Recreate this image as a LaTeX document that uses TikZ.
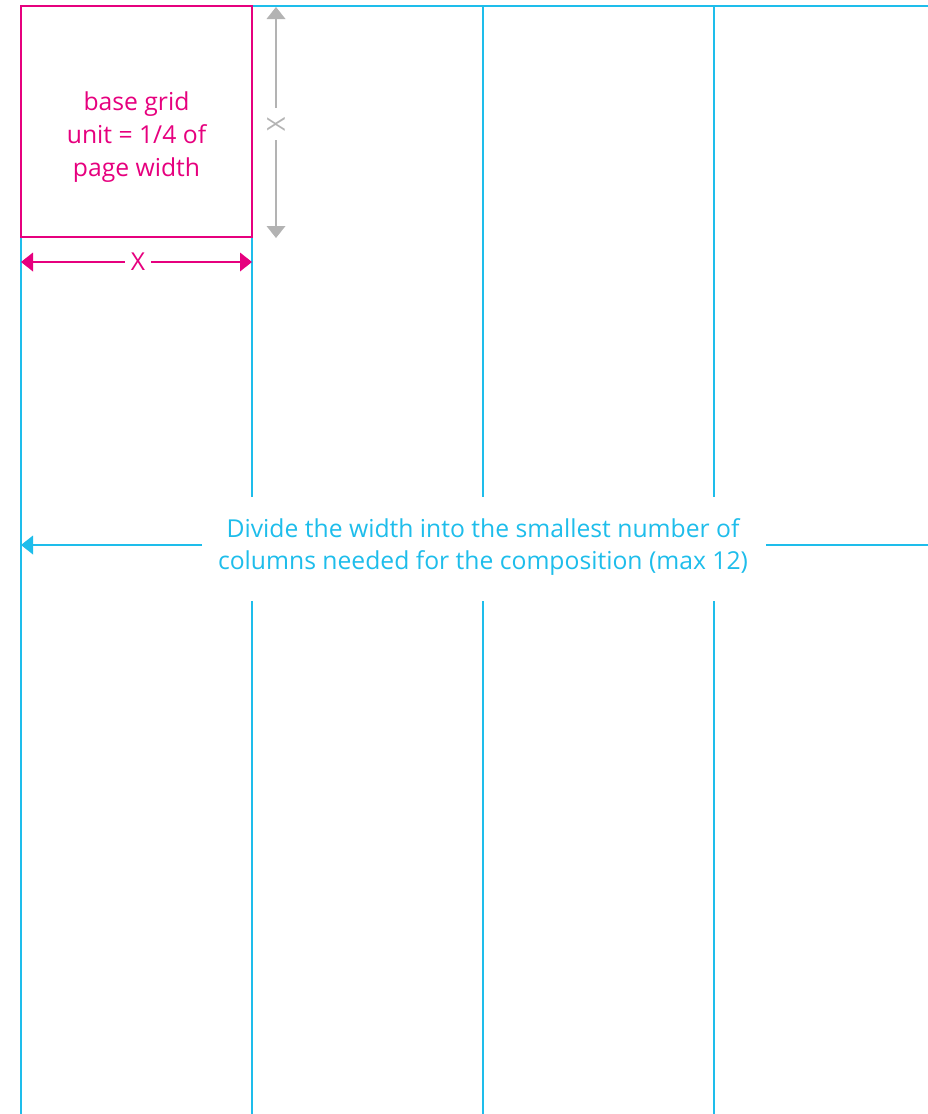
\documentclass[tikz,border=0pt]{standalone}
\usepackage{fontspec}
\setmainfont{Open Sans}
\usetikzlibrary{arrows.meta}
\definecolor{gridblue}{HTML}{1EBDEB}
\definecolor{gridpink}{HTML}{E6007E}
\definecolor{gridgray}{HTML}{B3B3B3}
\begin{document}
\begin{tikzpicture}[x=1pt,y=-1pt,
  bline/.style={draw=gridblue,line width=1.2pt},
  pline/.style={draw=gridpink,line width=1.2pt},
  gline/.style={draw=gridgray,line width=1.5pt},
  tri/.style={-{Triangle[length=12pt,width=19pt,line width=0pt]}},
  lbl/.style={inner sep=0pt,font=\fontsize{24.7}{32.8}\selectfont,align=center}]
\useasboundingbox (0,0) rectangle (928,1114);
% top line
\coordinate (tl) at (21,6);
\coordinate (tr) at (928,6);
\draw[bline] (tl) -- (tr);
% left line
\coordinate (lb) at (21,1114);
\draw[bline] (tl) -- (lb);
% interrupted columns
\foreach \x/\n in {252/a,483/b,714/c}{
  \coordinate (\n1) at (\x,6);
  \coordinate (\n2) at (\x,497);
  \coordinate (\n3) at (\x,601);
  \coordinate (\n4) at (\x,1114);
  \draw[bline] (\n1) -- (\n2);
  \draw[bline] (\n3) -- (\n4);
}
% pink box
\node[draw=gridpink,line width=1.2pt,minimum width=231pt,minimum height=231pt,inner sep=0pt,outer sep=0pt,anchor=north west] (box) at (21,6) {};
\node[lbl,text=gridpink] (boxt) at (136.5,137) {base grid\\unit = 1/4 of\\page width};
% pink X dimension
\node[lbl,text=gridpink] (px) at (138,262) {X};
\coordinate (pl) at (21,262);
\coordinate (pr) at (252,262);
\draw[pline,tri] (px.west) ++(-6,0) -- (pl);
\draw[pline,tri] (px.east) ++(6,0) -- (pr);
% gray X dimension
\node[lbl,text=gridgray,rotate=90] (gx) at (276,124) {X};
\coordinate (gt) at (276,7);
\coordinate (gb) at (276,238);
\draw[gline,tri] (276,108) -- (gt);
\draw[gline,tri] (276,140) -- (gb);
% blue note
\node[lbl,text=gridblue] (note) at (483,547) {Divide the width into the smallest number of\\columns needed for the composition (max 12)};
\coordinate (nl) at (21,545);
\coordinate (nr) at (928,545);
\coordinate (nls) at (202,545);
\coordinate (nrs) at (766,545);
\draw[bline,tri] (nls) -- (nl);
\draw[bline] (nrs) -- (nr);
\end{tikzpicture}
\end{document}
